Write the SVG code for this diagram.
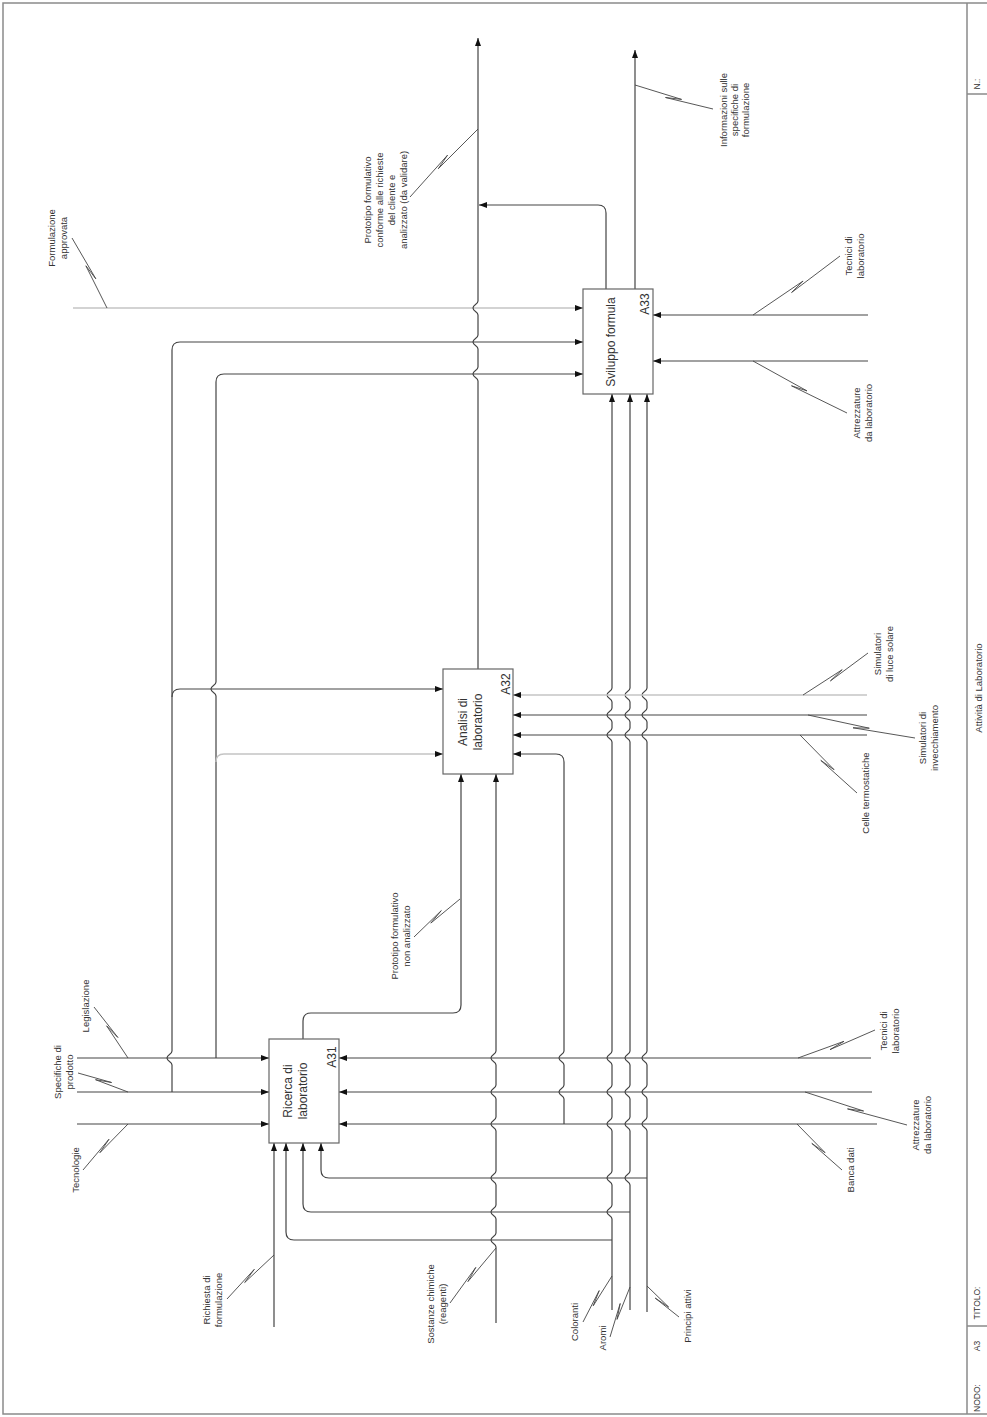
<svg xmlns="http://www.w3.org/2000/svg" width="987" height="1417" viewBox="0 0 987 1417">
<style>
.bg{fill:#fff}
.frame{fill:none;stroke:#8a8a8a;stroke-width:1.5}
.ln{fill:none;stroke:#444;stroke-width:1.2}
.lt{fill:none;stroke:#c4c4c4;stroke-width:1.3}
.ld{fill:none;stroke:#444;stroke-width:0.9}
.box{fill:#fff;stroke:#666;stroke-width:1.2}
.t{font-family:"Liberation Sans",Arial,sans-serif;font-size:9.5px;fill:#333;text-anchor:middle;dominant-baseline:central}
.bt{font-size:12px}
.tb{font-size:8.5px}
</style>
<defs>
<marker id="ah" viewBox="0 0 8 6" refX="8" refY="3" markerWidth="8" markerHeight="6" markerUnits="userSpaceOnUse" orient="auto"><path d="M0,0 L8,3 L0,6 z" fill="#111"/></marker>
</defs>
<rect class="bg" x="0" y="0" width="987" height="1417"/>
<g id="frame">
<rect class="frame" x="3" y="3" width="992" height="1411"/>
<line class="frame" x1="967" y1="3" x2="967" y2="1414"/>
<line class="frame" x1="967" y1="94" x2="987" y2="94"/>
<line class="frame" x1="967" y1="1326" x2="987" y2="1326"/>
<text class="t tb" transform="translate(977,84) rotate(-90)">N.:</text>
<text class="t" transform="translate(978,688) rotate(-90)">Attività di Laboratorio</text>
<text class="t tb" transform="translate(977,1303) rotate(-90)">TITOLO:</text>
<text class="t tb" transform="translate(977,1346) rotate(-90)">A3</text>
<text class="t tb" transform="translate(977,1398) rotate(-90)">NODO:</text>
</g>
<g id="connectors">
<!-- controls into A31 -->
<path class="ln" d="M77,1058 L269,1058" marker-end="url(#ah)"/>
<path class="ln" d="M77,1092 L269,1092" marker-end="url(#ah)"/>
<path class="ln" d="M77,1124 L269,1124" marker-end="url(#ah)"/>
<!-- branches -->
<path class="ln" d="M172,1092 L172,1065 C172,1061.5 167,1061.5 167,1058 C167,1054.5 172,1054.5 172,1051 L172,350 Q172,342 180,342 L583,342" marker-end="url(#ah)"/>
<path class="ln" d="M172,697 Q172,689 180,689 L443,689" marker-end="url(#ah)"/>
<path class="ln" d="M216,1058 L216,696 C216,692.5 211,692.5 211,689 C211,685.5 216,685.5 216,682 L216,382 Q216,374 224,374 L583,374" marker-end="url(#ah)"/>
<path class="lt" d="M216,762 Q216,754 224,754 L443,754" marker-end="url(#ah)"/>
<path class="lt" d="M73,308 L583,308" marker-end="url(#ah)"/>
<!-- A32 output -->
<path class="ln" d="M478,669 L478,381 C478,377.5 473,377.5 473,374 C473,370.5 478,370.5 478,367 L478,349 C478,345.5 473,345.5 473,342 C473,338.5 478,338.5 478,335 L478,315 C478,311.5 473,311.5 473,308 C473,304.5 478,304.5 478,301 L478,38" marker-end="url(#ah)"/>
<!-- A33 outputs -->
<path class="ln" d="M606,289 L606,213 Q606,205 598,205 L479,205" marker-end="url(#ah)"/>
<path class="ln" d="M635,289 L635,50" marker-end="url(#ah)"/>
<!-- A33 mechanisms -->
<path class="ln" d="M868,315 L653,315" marker-end="url(#ah)"/>
<path class="ln" d="M868,361 L653,361" marker-end="url(#ah)"/>
<!-- inputs to A33 -->
<path class="ln" d="M612,1310 L612,1219 C612,1215.5 607,1215.5 607,1212 C607,1208.5 612,1208.5 612,1205 L612,1185 C612,1181.5 607,1181.5 607,1178 C607,1174.5 612,1174.5 612,1171 L612,1131 C612,1127.5 607,1127.5 607,1124 C607,1120.5 612,1120.5 612,1117 L612,1099 C612,1095.5 607,1095.5 607,1092 C607,1088.5 612,1088.5 612,1085 L612,1065 C612,1061.5 607,1061.5 607,1058 C607,1054.5 612,1054.5 612,1051 L612,742 C612,738.5 607,738.5 607,735 C607,731.5 612,731.5 612,728 L612,722 C612,718.5 607,718.5 607,715 C607,711.5 612,711.5 612,708 L612,702 C612,698.5 607,698.5 607,695 C607,691.5 612,691.5 612,688 L612,394" marker-end="url(#ah)"/>
<path class="ln" d="M630,1310 L630,1185 C630,1181.5 625,1181.5 625,1178 C625,1174.5 630,1174.5 630,1171 L630,1131 C630,1127.5 625,1127.5 625,1124 C625,1120.5 630,1120.5 630,1117 L630,1099 C630,1095.5 625,1095.5 625,1092 C625,1088.5 630,1088.5 630,1085 L630,1065 C630,1061.5 625,1061.5 625,1058 C625,1054.5 630,1054.5 630,1051 L630,742 C630,738.5 625,738.5 625,735 C625,731.5 630,731.5 630,728 L630,722 C630,718.5 625,718.5 625,715 C625,711.5 630,711.5 630,708 L630,702 C630,698.5 625,698.5 625,695 C625,691.5 630,691.5 630,688 L630,394" marker-end="url(#ah)"/>
<path class="ln" d="M647,1312 L647,1131 C647,1127.5 642,1127.5 642,1124 C642,1120.5 647,1120.5 647,1117 L647,1099 C647,1095.5 642,1095.5 642,1092 C642,1088.5 647,1088.5 647,1085 L647,1065 C647,1061.5 642,1061.5 642,1058 C642,1054.5 647,1054.5 647,1051 L647,742 C647,738.5 642,738.5 642,735 C642,731.5 647,731.5 647,728 L647,722 C647,718.5 642,718.5 642,715 C642,711.5 647,711.5 647,708 L647,702 C647,698.5 642,698.5 642,695 C642,691.5 647,691.5 647,688 L647,394" marker-end="url(#ah)"/>
<!-- inputs to A31 from bottom -->
<path class="ln" d="M612,1240 L294,1240 Q286,1240 286,1232 L286,1143" marker-end="url(#ah)"/>
<path class="ln" d="M630,1212 L311,1212 Q303,1212 303,1204 L303,1143" marker-end="url(#ah)"/>
<path class="ln" d="M647,1178 L329,1178 Q321,1178 321,1170 L321,1143" marker-end="url(#ah)"/>
<path class="ln" d="M274,1327 L274,1143" marker-end="url(#ah)"/>
<!-- Sostanze chimiche to A32 -->
<path class="ln" d="M496,1323 L496,1247 C496,1243.5 491,1243.5 491,1240 C491,1236.5 496,1236.5 496,1233 L496,1219 C496,1215.5 491,1215.5 491,1212 C491,1208.5 496,1208.5 496,1205 L496,1185 C496,1181.5 491,1181.5 491,1178 C491,1174.5 496,1174.5 496,1171 L496,1131 C496,1127.5 491,1127.5 491,1124 C491,1120.5 496,1120.5 496,1117 L496,1099 C496,1095.5 491,1095.5 491,1092 C491,1088.5 496,1088.5 496,1085 L496,1065 C496,1061.5 491,1061.5 491,1058 C491,1054.5 496,1054.5 496,1051 L496,774" marker-end="url(#ah)"/>
<!-- A31 output to A32 -->
<path class="ln" d="M303,1039 L303,1021 Q303,1013 311,1013 L453,1013 Q461,1013 461,1005 L461,774" marker-end="url(#ah)"/>
<!-- A31 mechanisms -->
<path class="ln" d="M871,1058 L339,1058" marker-end="url(#ah)"/>
<path class="ln" d="M872,1092 L339,1092" marker-end="url(#ah)"/>
<path class="ln" d="M877,1124 L339,1124" marker-end="url(#ah)"/>
<path class="ln" d="M564,1124 L564,1099 C564,1095.5 559,1095.5 559,1092 C559,1088.5 564,1088.5 564,1085 L564,1065 C564,1061.5 559,1061.5 559,1058 C559,1054.5 564,1054.5 564,1051 L564,762 Q564,754 556,754 L513,754" marker-end="url(#ah)"/>
<!-- A32 mechanisms -->
<path class="lt" d="M867,695 L513,695" marker-end="url(#ah)"/>
<path class="ln" d="M867,715 L513,715" marker-end="url(#ah)"/>
<path class="ln" d="M867,735 L513,735" marker-end="url(#ah)"/>
<!-- label leaders with squiggles -->
<path class="ld" d="M107,308 L85.9,265.8 L95.8,278.8 L72,238"/>
<path class="ld" d="M478,129 L438.3,168.7 L447.5,155.2 L410,197"/>
<path class="ld" d="M635,85 L681.6,99.4 L665.5,97.5 L713,109"/>
<path class="ld" d="M753,315 L803.1,281 L791.6,292.5 L840,256"/>
<path class="ld" d="M753,361 L807,390.9 L791.5,385.8 L847,413"/>
<path class="ld" d="M803,695 L842.2,669.7 L830.4,680.9 L868,653"/>
<path class="ld" d="M808,715 L869.3,728.2 L853,727.8 L915,738"/>
<path class="ld" d="M800,735 L834.1,769.7 L820.8,760.4 L857,793"/>
<path class="ld" d="M128,1058 L106.6,1025.8 L117.9,1037.5 L94,1007"/>
<path class="ld" d="M128,1092 L95.5,1079.7 L111.6,1082.5 L78,1073"/>
<path class="ld" d="M128,1124 L99.9,1152.7 L109,1139.2 L83,1170"/>
<path class="ld" d="M460,899 L430.8,923.1 L441.3,910.6 L414,937"/>
<path class="ld" d="M798,1058 L844,1041.3 L830,1049.6 L875,1030"/>
<path class="ld" d="M805,1092 L863.6,1111 L847.5,1108.9 L907,1125"/>
<path class="ld" d="M797,1124 L825.1,1152.7 L811.8,1143.4 L842,1170"/>
<path class="ld" d="M274,1255 L244.7,1282.5 L254.3,1269.3 L227,1299"/>
<path class="ld" d="M496,1248 L467.9,1281.6 L475.8,1267.4 L450,1303"/>
<path class="ld" d="M612,1276 L593.2,1305.8 L599.2,1290.6 L583,1322"/>
<path class="ld" d="M630,1287 L617,1319.4 L620.2,1303.5 L610,1337"/>
<path class="ld" d="M647,1286 L668.7,1307.1 L655.2,1298.1 L679,1317"/>
</g>
<g id="labels">
<text class="t" transform="translate(57,238) rotate(-90)"><tspan x="0" y="-6">Formulazione</tspan><tspan x="0" y="6">approvata</tspan></text>
<text class="t" transform="translate(385,200) rotate(-90)"><tspan x="0" y="-18">Prototipo formulativo</tspan><tspan x="0" y="-6">conforme alle richieste</tspan><tspan x="0" y="6">del cliente e</tspan><tspan x="0" y="18">analizzato (da validare)</tspan></text>
<text class="t" transform="translate(734,110) rotate(-90)"><tspan x="0" y="-11">Informazioni sulle</tspan><tspan x="0" y="0">specifiche di</tspan><tspan x="0" y="11">formulazione</tspan></text>
<text class="t" transform="translate(854,256) rotate(-90)"><tspan x="0" y="-6">Tecnici di</tspan><tspan x="0" y="6">laboratorio</tspan></text>
<text class="t" transform="translate(862,413) rotate(-90)"><tspan x="0" y="-6">Attrezzature</tspan><tspan x="0" y="6">da laboratorio</tspan></text>
<text class="t" transform="translate(883,654) rotate(-90)"><tspan x="0" y="-6">Simulatori</tspan><tspan x="0" y="6">di luce solare</tspan></text>
<text class="t" transform="translate(928,738) rotate(-90)"><tspan x="0" y="-6">Simulatori di</tspan><tspan x="0" y="6">invecchiamento</tspan></text>
<text class="t" transform="translate(865,793) rotate(-90)">Celle termostatiche</text>
<text class="t" transform="translate(85,1006) rotate(-90)">Legislazione</text>
<text class="t" transform="translate(63,1072) rotate(-90)"><tspan x="0" y="-6">Specifiche di</tspan><tspan x="0" y="6">prodotto</tspan></text>
<text class="t" transform="translate(75,1170) rotate(-90)">Tecnologie</text>
<text class="t" transform="translate(400,936) rotate(-90)"><tspan x="0" y="-6">Prototipo formulativo</tspan><tspan x="0" y="6">non analizzato</tspan></text>
<text class="t" transform="translate(889,1031) rotate(-90)"><tspan x="0" y="-6">Tecnici di</tspan><tspan x="0" y="6">laboratorio</tspan></text>
<text class="t" transform="translate(921,1125) rotate(-90)"><tspan x="0" y="-6">Attrezzature</tspan><tspan x="0" y="6">da laboratorio</tspan></text>
<text class="t" transform="translate(850,1170) rotate(-90)">Banca dati</text>
<text class="t" transform="translate(212,1300) rotate(-90)"><tspan x="0" y="-6">Richiesta di</tspan><tspan x="0" y="6">formulazione</tspan></text>
<text class="t" transform="translate(436,1304) rotate(-90)"><tspan x="0" y="-6">Sostanze chimiche</tspan><tspan x="0" y="6">(reagenti)</tspan></text>
<text class="t" transform="translate(574,1322) rotate(-90)">Coloranti</text>
<text class="t" transform="translate(602,1338) rotate(-90)">Aromi</text>
<text class="t" transform="translate(687,1316) rotate(-90)">Principi attivi</text>
</g>
<g id="A31">
<rect class="box" x="269" y="1039" width="70" height="104"/>
<text class="t bt" transform="translate(295.5,1091) rotate(-90)"><tspan x="0" y="-7.5">Ricerca di</tspan><tspan x="0" y="7.5">laboratorio</tspan></text>
<text class="t bt" transform="translate(332,1057) rotate(-90)">A31</text>
</g>
<g id="A32">
<rect class="box" x="443" y="669" width="70" height="105"/>
<text class="t bt" transform="translate(470.5,722) rotate(-90)"><tspan x="0" y="-7.5">Analisi di</tspan><tspan x="0" y="7.5">laboratorio</tspan></text>
<text class="t bt" transform="translate(506,684) rotate(-90)">A32</text>
</g>
<g id="A33">
<rect class="box" x="583" y="289" width="70" height="105"/>
<text class="t bt" transform="translate(611,342) rotate(-90)">Sviluppo formula</text>
<text class="t bt" transform="translate(645,304) rotate(-90)">A33</text>
</g>
</svg>
